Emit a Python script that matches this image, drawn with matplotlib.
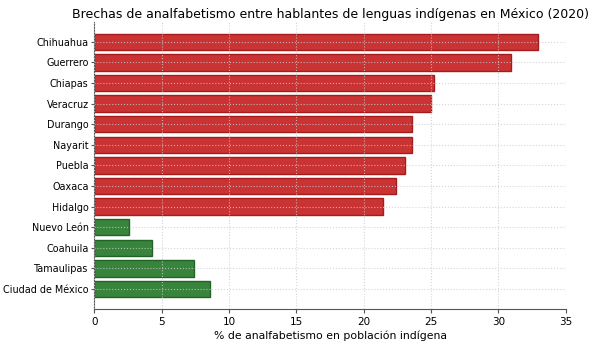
import matplotlib
matplotlib.use("Agg")
import matplotlib.pyplot as plt

estados = ["Chihuahua", "Guerrero", "Chiapas", "Veracruz", "Durango", "Nayarit",
           "Puebla", "Oaxaca", "Hidalgo", "Nuevo León", "Coahuila", "Tamaulipas",
           "Ciudad de México"]
valores = [32.9, 30.9, 25.2, 25.0, 23.6, 23.6, 23.1, 22.4, 21.4, 2.6, 4.3, 7.4, 8.6]
grupo = ["alto"] * 9 + ["bajo"] * 4

colores = {"alto": "#c62828", "bajo": "#2e7d32"}
bordes = {"alto": "#a31515", "bajo": "#1b5e20"}

fig = plt.figure(figsize=(6, 3.41), dpi=100)
ax = fig.add_axes([0.157, 0.094, 0.786, 0.842])

pos = list(range(len(estados)))
ax.barh(pos, valores, height=0.8,
        color=[colores[g] for g in grupo],
        edgecolor=[bordes[g] for g in grupo], linewidth=1.0, alpha=0.95)

ax.set_yticks(pos)
ax.set_yticklabels(estados, fontsize=6.9)
ax.set_ylim(12.97, -0.97)
ax.set_xlim(0, 35)
ax.set_xticks([0, 5, 10, 15, 20, 25, 30, 35])
ax.tick_params(axis="x", labelsize=7.5, length=3, color="#555555", pad=2.5)
ax.tick_params(axis="y", length=2.5, color="#555555", pad=1.5)
ax.set_xlabel("% de analfabetismo en población indígena", fontsize=7.8, labelpad=3)
ax.set_title("Brechas de analfabetismo entre hablantes de lenguas indígenas en México (2020)",
             fontsize=9.0, pad=3)

ax.set_axisbelow(False)
ax.grid(True, linestyle=":", color="#cccccc", linewidth=0.8, alpha=0.8)
for s in ["top", "right"]:
    ax.spines[s].set_visible(False)
for s in ["left", "bottom"]:
    ax.spines[s].set_color("#555555")

fig.savefig("out.png", dpi=100)
